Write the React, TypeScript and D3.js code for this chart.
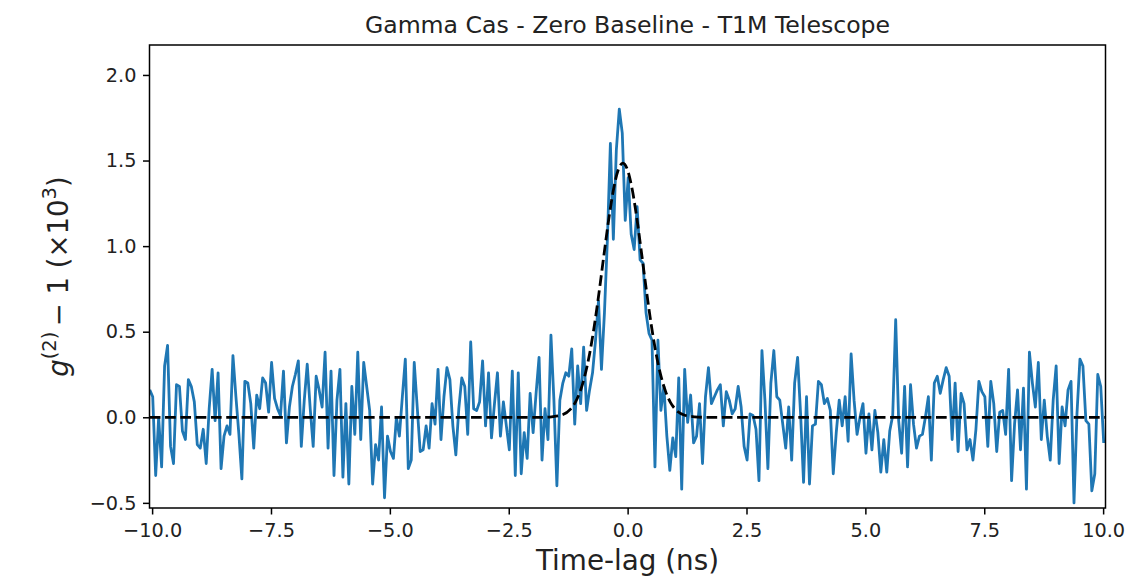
import * as d3 from "d3";
import { useEffect, useRef } from "react";

// measured g2 - 1 (x1e3), sampled every LAG_STEP ns starting at LAG_START
const LAG_START = -10.05;
const LAG_STEP = 0.0625;
const g2Values = [
  0.16, 0.12, -0.34, 0.0, -0.29, 0.3, 0.42, -0.17, -0.27, 0.19,
  0.18, -0.08, -0.13, 0.22, 0.18, 0.09, -0.16, -0.18, -0.07, -0.27,
  0.05, 0.28, -0.02, 0.26, -0.3, -0.11, -0.05, -0.1, 0.36, 0.12,
  -0.1, -0.36, 0.21, 0.2, 0.08, -0.18, 0.13, 0.05, 0.23, 0.2,
  0.03, 0.32, 0.11, 0.05, 0.01, 0.27, -0.15, 0.06, 0.18, 0.25,
  0.33, -0.17, 0.1, 0.31, 0.05, -0.17, 0.24, 0.16, 0.06, 0.38,
  -0.18, 0.27, -0.34, 0.1, 0.28, -0.35, 0.08, -0.39, 0.18, -0.1,
  0.38, -0.13, 0.32, 0.18, 0.04, -0.39, -0.16, -0.25, 0.06, -0.47,
  -0.11, -0.2, -0.24, 0.0, -0.11, 0.12, 0.34, -0.3, -0.25, 0.32,
  0.06, -0.2, -0.19, -0.05, -0.18, 0.08, -0.04, 0.28, -0.13, 0.12,
  0.29, 0.22, -0.05, -0.22, 0.05, 0.23, 0.18, -0.1, 0.44, 0.05,
  0.04, 0.09, 0.33, -0.05, 0.26, -0.12, 0.08, 0.26, -0.11, 0.09,
  -0.05, -0.19, 0.27, -0.34, 0.26, -0.33, -0.09, -0.24, 0.14, -0.09,
  0.14, 0.35, -0.25, 0.05, -0.13, 0.48, 0.1, -0.4, 0.1, 0.2,
  0.26, 0.24, 0.4, -0.04, 0.3, 0.08, 0.41, 0.04, 0.16, 0.26,
  0.45, 0.68, 0.28, 0.61, 1.04, 1.6, 1.04, 1.56, 1.8, 1.66,
  1.15, 1.4, 1.07, 0.98, 1.23, 0.92, 0.9, 0.61, 0.49, 0.45,
  -0.29, 0.45, 0.04, 0.18, -0.11, -0.31, -0.12, -0.23, 0.23, -0.42,
  0.28, -0.03, 0.13, -0.15, -0.11, 0.08, -0.27, 0.12, 0.29, 0.08,
  0.12, 0.16, 0.19, -0.05, 0.15, 0.1, 0.02, 0.05, 0.18, 0.06,
  -0.17, -0.25, 0.02, 0.01, -0.07, -0.37, 0.39, 0.1, -0.3, 0.2,
  0.39, 0.12, 0.1, -0.04, -0.18, 0.06, -0.25, 0.2, 0.35, 0.02,
  -0.38, 0.12, -0.39, -0.05, -0.04, 0.21, 0.19, 0.08, 0.11, 0.04,
  -0.33, -0.09, 0.1, -0.05, 0.12, -0.14, 0.37, 0.1, -0.1, 0.0,
  0.08, -0.21, 0.02, -0.19, 0.04, -0.09, -0.32, -0.13, -0.32, -0.08,
  0.01, 0.57, -0.02, -0.21, 0.18, -0.29, 0.19, -0.04, -0.18, -0.11,
  -0.1, 0.0, 0.12, -0.25, 0.2, 0.24, 0.14, 0.22, 0.29, 0.24,
  -0.13, 0.2, -0.2, 0.14, 0.08, -0.19, -0.13, -0.25, -0.07, 0.21,
  0.15, 0.12, -0.17, 0.21, 0.08, -0.2, 0.03, 0.04, -0.1, 0.28,
  -0.37, -0.04, 0.16, -0.19, 0.17, -0.42, 0.38, 0.2, 0.06, 0.32,
  -0.13, 0.1, -0.11, -0.25, 0.1, 0.3, -0.27, 0.06, -0.05, 0.16,
  0.21, -0.5, 0.02, 0.34, 0.3, -0.02, -0.04, -0.43, -0.33, 0.25,
  0.18, -0.15,
];

// fitted curve (dashed)
const fitLag = [
  -10.05, -1.8, -1.6, -1.4, -1.2, -1.1, -1.0, -0.9, -0.8, -0.7, -0.6, -0.5,
  -0.4, -0.3, -0.2, -0.1, 0.0, 0.1, 0.2, 0.3, 0.4, 0.5, 0.6, 0.7, 0.8, 0.9,
  1.0, 1.2, 1.4, 1.6, 10.05,
];
const fitValue = [
  0, 0, 0.003, 0.012, 0.048, 0.087, 0.15, 0.242, 0.37, 0.535, 0.731, 0.944,
  1.151, 1.326, 1.443, 1.485, 1.443, 1.326, 1.151, 0.944, 0.731, 0.535, 0.37,
  0.242, 0.15, 0.087, 0.048, 0.012, 0.003, 0, 0,
];

const xTicks = [-10, -7.5, -5, -2.5, 0, 2.5, 5, 7.5, 10];
const yTicks = [-0.5, 0, 0.5, 1.0, 1.5, 2.0];

const TITLE = "Gamma Cas - Zero Baseline - T1M Telescope";
const X_LABEL = "Time-lag (ns)";

const WIDTH = 1131;
const HEIGHT = 579;
const PLOT = { left: 149.5, right: 1105.5, top: 45, bottom: 508 };
const X_DOMAIN: [number, number] = [-10.055, 10.05];
const Y_DOMAIN: [number, number] = [-0.53, 2.175];
const FONT = "DejaVu Sans, Verdana, sans-serif";
const BLUE = "#1f77b4";

export default function App() {
  const svgRef = useRef<SVGSVGElement | null>(null);

  useEffect(() => {
    if (!svgRef.current) return;
    const svg = d3.select(svgRef.current);
    svg.selectAll("*").remove();

    const x = d3.scaleLinear().domain(X_DOMAIN).range([PLOT.left, PLOT.right]);
    const y = d3.scaleLinear().domain(Y_DOMAIN).range([PLOT.bottom, PLOT.top]);

    svg
      .append("defs")
      .append("clipPath")
      .attr("id", "plot-clip")
      .append("rect")
      .attr("x", PLOT.left)
      .attr("y", PLOT.top)
      .attr("width", PLOT.right - PLOT.left)
      .attr("height", PLOT.bottom - PLOT.top);

    const series = g2Values.map((v, i) => ({ lag: LAG_START + i * LAG_STEP, v }));
    const fit = fitLag.map((lag, i) => ({ lag, v: fitValue[i] }));

    const plot = svg.append("g").attr("clip-path", "url(#plot-clip)");

    plot
      .append("path")
      .datum(series)
      .attr("fill", "none")
      .attr("stroke", BLUE)
      .attr("stroke-width", 2.8)
      .attr("stroke-linejoin", "round")
      .attr(
        "d",
        d3
          .line<{ lag: number; v: number }>()
          .x((d) => x(d.lag))
          .y((d) => y(d.v)),
      );

    plot
      .append("path")
      .datum(fit)
      .attr("fill", "none")
      .attr("stroke", "#000")
      .attr("stroke-width", 2.8)
      .attr("stroke-dasharray", "10.7 4.6")
      .attr(
        "d",
        d3
          .line<{ lag: number; v: number }>()
          .curve(d3.curveMonotoneX)
          .x((d) => x(d.lag))
          .y((d) => y(d.v)),
      );

    // frame
    svg
      .append("rect")
      .attr("x", PLOT.left)
      .attr("y", PLOT.top)
      .attr("width", PLOT.right - PLOT.left)
      .attr("height", PLOT.bottom - PLOT.top)
      .attr("fill", "none")
      .attr("stroke", "#000")
      .attr("stroke-width", 1.5);

    const fmt = d3.format(".1f");

    const xAxis = svg
      .append("g")
      .attr("transform", `translate(0,${PLOT.bottom})`)
      .call(
        d3
          .axisBottom(x)
          .tickValues(xTicks)
          .tickFormat((d) => fmt(d as number))
          .tickSize(6.5)
          .tickSizeOuter(0)
          .tickPadding(8.5),
      );
    xAxis.select(".domain").remove();

    const yAxis = svg
      .append("g")
      .attr("transform", `translate(${PLOT.left},0)`)
      .call(
        d3
          .axisLeft(y)
          .tickValues(yTicks)
          .tickFormat((d) => fmt(d as number))
          .tickSize(6.5)
          .tickSizeOuter(0)
          .tickPadding(6.5),
      );
    yAxis.select(".domain").remove();

    svg
      .selectAll(".tick line")
      .attr("stroke", "#000")
      .attr("stroke-width", 1.5);
    svg
      .selectAll(".tick text")
      .attr("fill", "#222")
      .attr("font-family", FONT)
      .attr("font-size", 19.3);

    svg
      .append("text")
      .attr("x", (PLOT.left + PLOT.right) / 2)
      .attr("y", 33)
      .attr("text-anchor", "middle")
      .attr("font-family", FONT)
      .attr("font-size", 23.6)
      .attr("fill", "#222")
      .text(TITLE);

    svg
      .append("text")
      .attr("x", (PLOT.left + PLOT.right) / 2)
      .attr("y", 570)
      .attr("text-anchor", "middle")
      .attr("font-family", FONT)
      .attr("font-size", 27.8)
      .attr("fill", "#222")
      .text(X_LABEL);

    const yLabel = svg
      .append("text")
      .attr("transform", `translate(68,${(PLOT.top + PLOT.bottom) / 2}) rotate(-90)`)
      .attr("text-anchor", "middle")
      .attr("font-family", FONT)
      .attr("font-size", 27.5)
      .attr("fill", "#222");
    yLabel.append("tspan").attr("font-style", "italic").text("g");
    yLabel.append("tspan").attr("font-size", 19.5).attr("dy", -12).text("(2)");
    yLabel.append("tspan").attr("dy", 12).text("\u2009\u2212 1 (\u00d710");
    yLabel.append("tspan").attr("font-size", 19.5).attr("dy", -12).text("3");
    yLabel.append("tspan").attr("dy", 12).text(")");
  }, []);

  return (
    <svg
      ref={svgRef}
      width={WIDTH}
      height={HEIGHT}
      style={{ position: "absolute", left: 0, top: 0, background: "#fff" }}
    />
  );
}
